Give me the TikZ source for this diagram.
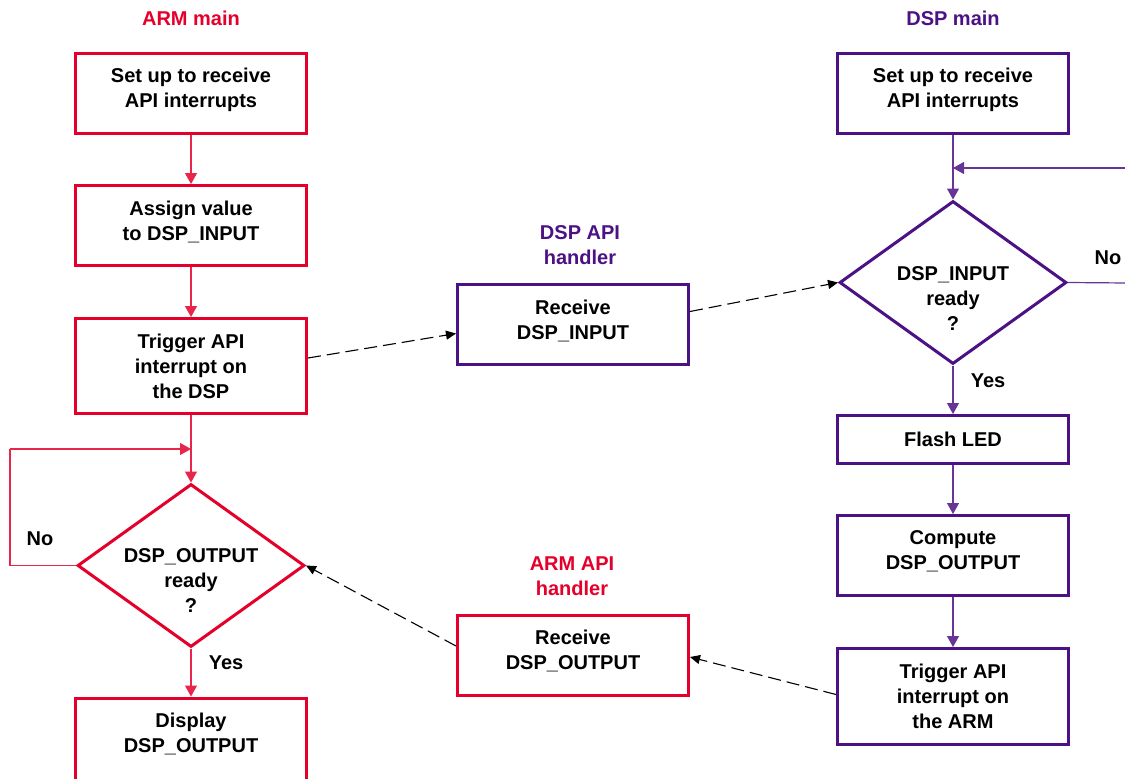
\documentclass[tikz,border=0pt]{standalone}
\usepackage{fontspec}
\setmainfont{Liberation Sans}
\usetikzlibrary{shapes.geometric,arrows.meta}
\definecolor{armred}{RGB}{228,0,43}
\definecolor{dsppurple}{RGB}{76,17,132}
\begin{document}
\begin{tikzpicture}[x=1pt,y=-1pt,
  font=\fontsize{20}{25}\selectfont\bfseries,
  box/.style={draw, line width=3pt, minimum width=231pt, minimum height=80pt, align=center, inner sep=0pt},
  two/.style={text depth=10pt},
  abox/.style={box, draw=armred},
  dbox/.style={box, draw=dsppurple},
  dec/.style={draw, diamond, line width=3pt, minimum width=227pt, minimum height=163pt, inner sep=0pt},
  txt/.style={align=center, inner sep=0pt},
  atitle/.style={txt, text=armred},
  dtitle/.style={txt, text=dsppurple},
  aconn/.style={draw=armred!85, line width=1.2pt, -{Triangle[width=12pt,length=11pt]}},
  dconn/.style={draw=dsppurple!85, line width=1.2pt, -{Triangle[width=12pt,length=11pt]}},
  aline/.style={draw=armred!85, line width=1.2pt},
  dline/.style={draw=dsppurple!85, line width=1.2pt},
  dashconn/.style={draw=black, line width=1.1pt, dash pattern=on 13pt off 6pt, -{Triangle[width=9pt,length=10pt]}}
]
\clip (0,0) rectangle (1125,779);
\fill[white] (0,0) rectangle (1125,779);

% ARM column
\node[atitle] (armt) at (191,18) {ARM main};
\node[abox, two] (a1) at (191,93) {Set up to receive\\API interrupts};
\node[abox, two] (a2) at (191,225.5) {Assign value\\to DSP\_INPUT};
\node[abox, minimum height=95pt] (a3) at (191,366) {Trigger API\\interrupt on\\the DSP};
\node[dec, draw=armred] (ad) at (191,565.5) {};
\node[txt] (adt) at (191,581) {DSP\_OUTPUT\\ready\\?};
\node[abox, minimum height=86pt, text depth=16pt] (a4) at (191,741) {Display\\DSP\_OUTPUT};
\coordinate (aj) at (191,449);
\coordinate (aloop) at (10,449);
\node[txt] (ano) at (40,539) {No};
\node[txt] (ayes) at (226,663) {Yes};

\draw[aconn] (a1) -- (a2);
\draw[aconn] (a2) -- (a3);
\draw[aconn] (a3.south) -- (ad.north);
\draw[aline] (ad.west) -| (aloop);
\draw[aconn] (aloop) -- (aj);
\draw[aconn] (ad.south) -- (a4.north);

% handlers
\node[dtitle] (rint) at (580,245) {DSP API\\handler};
\node[dbox, two] (rin) at (573,324.5) {Receive\\DSP\_INPUT};
\node[atitle] (routt) at (572,576) {ARM API\\handler};
\node[abox, two] (rout) at (573,655) {Receive\\DSP\_OUTPUT};

% DSP column
\node[dtitle] (dspt) at (953,18) {DSP main};
\node[dbox, two] (d1) at (953,93) {Set up to receive\\API interrupts};
\coordinate (dj) at (953,168);
\coordinate (dr1) at (1127,168);
\node[dec, draw=dsppurple] (dd) at (953,282.5) {};
\node[txt] (ddt) at (953,299) {DSP\_INPUT\\ready\\?};
\coordinate (dr2) at (1127,283);
\node[txt] (dno) at (1108,258) {No};
\node[txt] (dyes) at (988,381) {Yes};
\node[dbox, minimum height=48pt] (d2) at (953,439.5) {Flash LED};
\node[dbox, two] (d3) at (953,555.5) {Compute\\DSP\_OUTPUT};
\node[dbox, minimum height=96pt] (d4) at (953,696.5) {Trigger API\\interrupt on\\the ARM};

\draw[dconn] (d1.south) -- (dd.north);
\draw[dconn] (dr1) -- (dj);
\draw[dline] (dd.east) -- (dr2);
\draw[dconn] (dd.south) -- (d2.north);
\draw[dconn] (d2) -- (d3);
\draw[dconn] (d3) -- (d4);

% dashed API interrupts
\draw[dashconn] ([yshift=8pt]a3.east) -- ([yshift=-9pt]rin.west);
\draw[dashconn] ([yshift=13pt]rin.east) -- (dd.west);
\draw[dashconn] ([yshift=2pt]d4.west) -- ([yshift=-2pt]rout.east);
\draw[dashconn] ([yshift=9pt]rout.west) -- (ad.east);
\end{tikzpicture}
\end{document}
